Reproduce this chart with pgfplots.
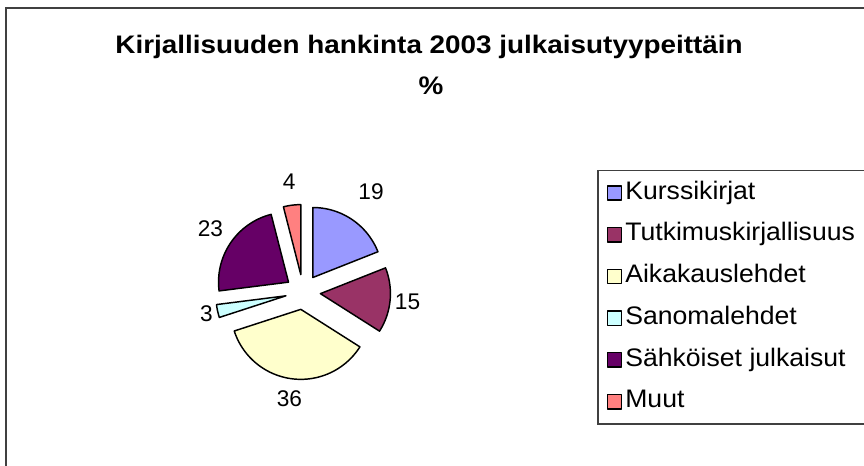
\documentclass[border=0pt]{standalone}
\usepackage{pgfplots}
\pgfplotsset{compat=1.18}
\usepackage{fontspec}
\setmainfont{Liberation Sans}
\newfontfamily\titlefont{Liberation Sans}[FakeStretch=1.1]
\newfontfamily\legfont{Liberation Sans}[FakeStretch=1.05]
\definecolor{cK}{HTML}{9999FF}
\definecolor{cT}{HTML}{993366}
\definecolor{cA}{HTML}{FFFFCC}
\definecolor{cS}{HTML}{CCFFFF}
\definecolor{cE}{HTML}{660066}
\definecolor{cM}{HTML}{FF8080}
\definecolor{frame}{HTML}{404040}
% pie geometry in pixel units (y measured upwards)
\def\cx{303}\def\cy{174}\def\rad{70}\def\expl{17.5}
% #1 cumulative start (%), #2 value (%), #3 colour, #4 legend, #5 label distance
\newcommand{\slice}[5]{%
  \pgfmathsetmacro\sa{#1*3.6}%
  \pgfmathsetmacro\sb{(#1+#2)*3.6}%
  \pgfmathsetmacro\sm{(\sa+\sb)/2}%
  \pgfmathsetmacro\ax{\cx+\expl*sin(\sm)}%
  \pgfmathsetmacro\ay{\cy+\expl*cos(\sm)}%
  \pgfmathsetmacro\lx{\cx+#5*sin(\sm)}%
  \pgfmathsetmacro\ly{\cy+#5*cos(\sm)}%
  \edef\doit{%
    \noexpand\addplot[fill=#3, draw=black, line width=1.1pt, line join=round,
      domain=\sa:\sb, samples=60]
      ({\ax+\rad*sin(x)},{\ay+\rad*cos(x)}) -- (axis cs:\ax,\ay) -- cycle;
    \noexpand\addlegendentry{#4}
    \noexpand\node[font=\noexpand\fontsize{17pt}{19pt}\noexpand\selectfont]
      at (axis cs:\lx,\ly) {#2};
  }\doit
}
\begin{document}
\begin{tikzpicture}
\begin{axis}[
  scale only axis, width=648pt, height=349.5pt,
  xmin=0, xmax=864, ymin=0, ymax=466,
  hide axis, clip=false,
  legend cell align=left,
  legend image code/.code={\draw[#1] (0.5pt,-5.8pt) rectangle (11pt,5pt);},
  legend style={draw=none, fill=none, inner sep=0pt, outer sep=0pt,
    at={(axis description cs:0.7020,0.6127)}, anchor=north west,
    row sep=13.3pt,
    nodes={inner xsep=2.5pt, inner ysep=0pt, text height=14pt, text depth=4pt,
      font=\legfont\fontsize{19pt}{22pt}\selectfont}},
]
% frame and legend box
\draw[frame, line width=1.4pt] (axis cs:6,-10) -- (axis cs:6,458) -- (axis cs:880,458);
\draw[frame, line width=1.1pt] (axis cs:598,295.5) rectangle (axis cs:880,42);
% title
\node[anchor=base] at (axis cs:429,412) {\titlefont\bfseries\fontsize{19pt}{23pt}\selectfont Kirjallisuuden hankinta 2003 julkaisutyypeittäin};
\node[anchor=base] at (axis cs:431,371) {\titlefont\bfseries\fontsize{19pt}{23pt}\selectfont \%};
% slices: start, value, colour, name, label distance
\slice{0}{19}{cK}{Kurssikirjat}{121}
\slice{19}{15}{cT}{Tutkimuskirjallisuus}{105}
\slice{34}{36}{cA}{Aikakauslehdet}{108}
\slice{70}{3}{cS}{Sanomalehdet}{99}
\slice{73}{23}{cE}{Sähköiset julkaisut}{112}
\slice{96}{4}{cM}{Muut}{111}
\end{axis}
\pgfresetboundingbox
\path[use as bounding box] (0,0) rectangle (648pt,349.5pt);
\end{tikzpicture}
\end{document}
